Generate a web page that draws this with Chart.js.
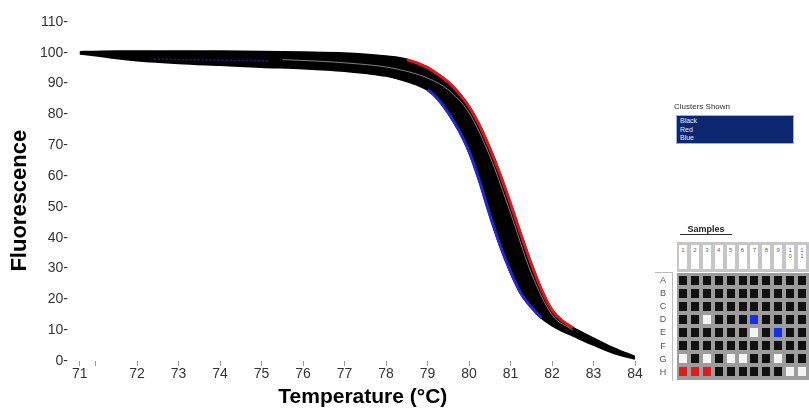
<!DOCTYPE html>
<html>
<head>
<meta charset="utf-8">
<script src="https://cdn.jsdelivr.net/npm/chart.js@4.4.0/dist/chart.umd.min.js"></script>
<style>
  html, body { margin: 0; padding: 0; background: #fff; }
  #wrap { position: relative; width: 809px; height: 410px; overflow: hidden; font-family: Arial, "Liberation Sans", sans-serif; }
  #meltChart { position: absolute; left: 0; top: 0; }
  .clusters-title { position: absolute; left: 674px; top: 102px; font-size: 8px; color: #333; }
  .clusters-box { position: absolute; left: 676px; top: 115px; width: 118px; height: 29px; background: #0c2770; border: 1px solid #9bb0dc; box-sizing: border-box; padding-top: 1px; }
  .clusters-box div { font-size: 7px; line-height: 8.6px; color: #e6eaf6; padding-left: 3px; }
  .samples-title { position: absolute; left: 680px; top: 224px; width: 52px; font-size: 9px; font-weight: bold; color: #222; text-align: center; border-bottom: 1px solid #333; line-height: 10px; }
  .col-head { position: absolute; left: 677px; top: 242px; width: 132px; height: 30px; background: #c6c6c6; }
  .col-head div { position: absolute; top: 3px; width: 8px; height: 24px; background: #fff; font-size: 6px; line-height: 6px; color: #666; text-align: center; padding-top: 2px; box-sizing: border-box; }
  .row-box { position: absolute; left: 655px; top: 272px; width: 17px; height: 108px; border-top: 1px solid #bbb; border-right: 1px solid #bbb; }
  .row-lab { position: absolute; left: 657px; width: 12px; font-size: 9px; line-height: 10px; color: #555; text-align: center; }
  .grid-bg { position: absolute; left: 677px; top: 273px; width: 132px; height: 107px; background: #9c9c9c; }
  .cell { position: absolute; width: 8px; height: 9px; }
</style>
</head>
<body>
<div id="wrap">
  <canvas id="meltChart" width="809" height="410"></canvas>
  <div class="clusters-title">Clusters Shown</div>
  <div class="clusters-box" id="clusters"></div>
  <div class="samples-title">Samples</div>
  <div class="col-head" id="colHead"></div>
  <div class="row-box"></div>
  <div class="grid-bg"></div>
  <div id="plate"></div>
</div>
<script>
// melt curve envelope
const temps      = [70.62, 71, 71.5, 72, 73, 74, 75, 76, 77, 77.5, 78, 78.5, 79, 79.25, 79.5, 79.75, 80, 80.25, 80.5, 80.75, 81, 81.25, 81.5, 81.75, 82, 82.25, 82.5, 83, 83.5, 84];
const upperEdge  = [100.2, 100.3, 100.4, 100.4, 100.4, 100.4, 100.3, 100.1, 99.8, 99.4, 98.8, 97.8, 95.2, 93, 90.5, 87, 82.5, 76.5, 69, 60.5, 51, 41, 31.5, 23, 16.5, 13, 10.8, 7.3, 4, 1.3];
const lowerEdge  = [99.8, 99.2, 98.3, 97.6, 96.7, 96.1, 95.5, 95, 94.2, 93.5, 92.6, 90.8, 88, 85, 80.5, 75, 68, 58.5, 47.5, 37.5, 29, 22, 17.5, 14, 11.6, 9.8, 8.3, 5.3, 2.6, 0.8];

const whiteTemps = [75.5, 76.5, 77.5, 78, 78.5, 79, 79.5, 80, 80.5, 81, 81.5, 82, 82.5];
const whiteTrace = [97.8, 97.2, 96.2, 95.4, 94, 91.8, 88, 80.5, 66.5, 48, 28.5, 15, 10];

const blueDotTemps = [72.4, 73, 73.6, 74, 74.6, 75.2];
const blueDotTrace = [98, 97.8, 97.7, 97.6, 97.5, 97.4];

const redRange  = [78.5, 82.5];
const blueRange = [79, 81.75];

const xTickValues = [70.62, 71, 72, 73, 74, 75, 76, 77, 78, 79, 80, 81, 82, 83, 84];
const xTickLabels = ['71', '', '72', '73', '74', '75', '76', '77', '78', '79', '80', '81', '82', '83', '84'];

const clusterNames = ['Black', 'Red', 'Blue'];
const plateRows = ['A', 'B', 'C', 'D', 'E', 'F', 'G', 'H'];
const plateCols = ['1', '2', '3', '4', '5', '6', '7', '8', '9', '10', '11'];
const plateCells = [
    'kkkkkkkkkkk',
    'kkkkkkkkkkk',
    'kkkkkkkkkkk',
    'kkwkkkbkkkk',
    'kkkkkkwkbkk',
    'kkkkkkkkkkk',
    'wkwkwwkkwkk',
    'rrrkkkkkkww'
];

const RED = '#e3141b';
const BLUE = '#2626d4';
const BLACK = '#000';
const NONE = 'rgba(0,0,0,0)';
const cellColors = { k: '#111', w: '#f4f4f4', b: '#1530e6', r: '#e51a1a' };

function toPoints(xs, ys) {
    return xs.map((x, i) => ({ x: x, y: ys[i] }));
}

function inRange(c, range) {
    return c.p0.parsed.x >= range[0] && c.p1.parsed.x <= range[1];
}

const tickFont = { family: 'Arial, "Liberation Sans", sans-serif', size: 14 };
const titleFamily = 'Arial, "Liberation Sans", sans-serif';

const ctx = document.getElementById('meltChart').getContext('2d');
const meltChart = new Chart(ctx, {
    type: 'line',
    data: {
        datasets: [
            // coloured edges on top
            {
                data: toPoints(temps, upperEdge),
                borderColor: NONE,
                borderWidth: 3,
                fill: false,
                segment: { borderColor: c => inRange(c, redRange) ? RED : NONE }
            },
            {
                data: toPoints(temps, lowerEdge),
                borderColor: NONE,
                borderWidth: 3,
                fill: false,
                segment: { borderColor: c => inRange(c, blueRange) ? BLUE : NONE }
            },
            {
                data: toPoints(whiteTemps, whiteTrace),
                borderColor: 'rgba(255,255,255,0.5)',
                borderWidth: 1,
                fill: false
            },
            {
                data: toPoints(blueDotTemps, blueDotTrace),
                borderColor: 'rgba(50,50,200,0.7)',
                borderWidth: 1.5,
                borderDash: [2, 2],
                fill: false
            },
            // black band
            {
                data: toPoints(temps, upperEdge),
                borderColor: BLACK,
                borderWidth: 2.5,
                backgroundColor: BLACK,
                fill: '+1'
            },
            {
                data: toPoints(temps, lowerEdge),
                borderColor: BLACK,
                borderWidth: 2.5,
                fill: false
            }
        ]
    },
    options: {
        responsive: false,
        animation: false,
        devicePixelRatio: 1,
        layout: { padding: { left: 0, right: 174, top: 22, bottom: 0 } },
        elements: {
            point: { radius: 0 },
            line: { cubicInterpolationMode: 'monotone' }
        },
        plugins: {
            legend: { display: false },
            tooltip: { enabled: false },
            filler: { drawTime: 'beforeDatasetsDraw' }
        },
        scales: {
            x: {
                type: 'linear',
                min: 70.6,
                max: 84,
                afterFit: s => { s.height = 49; },
                afterBuildTicks: s => { s.ticks = xTickValues.map(v => ({ value: v })); },
                ticks: {
                    autoSkip: false,
                    maxRotation: 0,
                    padding: 0,
                    color: '#333',
                    font: tickFont,
                    callback: (v, i) => xTickLabels[i]
                },
                grid: { display: true, drawOnChartArea: false, drawTicks: true, tickLength: 5, color: '#999' },
                border: { display: false },
                title: {
                    display: true,
                    text: '  Temperature (°C)',
                    color: '#000',
                    font: { family: titleFamily, size: 21, weight: 'bold' },
                    padding: { top: 0, bottom: 0 }
                }
            },
            y: {
                min: 0,
                max: 110,
                afterFit: s => { s.width = 79; },
                ticks: {
                    stepSize: 10,
                    padding: 11,
                    color: '#333',
                    font: tickFont,
                    callback: v => v + '-'
                },
                grid: { display: false, drawTicks: false },
                border: { display: false },
                title: {
                    display: true,
                    text: 'Fluorescence   ',
                    color: '#000',
                    font: { family: titleFamily, size: 22, weight: 'bold' },
                    padding: { top: 7, bottom: 0 }
                }
            }
        }
    }
});

// side panel: clusters list and sample plate
const clustersBox = document.getElementById('clusters');
clusterNames.forEach(n => {
    const d = document.createElement('div');
    d.textContent = n;
    clustersBox.appendChild(d);
});

const colHead = document.getElementById('colHead');
plateCols.forEach((c, i) => {
    const d = document.createElement('div');
    d.style.left = (2 + i * 11.9) + 'px';
    d.innerHTML = c.split('').join('<br>');
    colHead.appendChild(d);
});

const wrap = document.getElementById('wrap');
plateRows.forEach((r, ri) => {
    const cy = 280 + ri * 13.1;
    const lab = document.createElement('div');
    lab.className = 'row-lab';
    lab.style.top = (cy - 5) + 'px';
    lab.textContent = r;
    wrap.appendChild(lab);
    plateCells[ri].split('').forEach((k, ci) => {
        const cell = document.createElement('div');
        cell.className = 'cell';
        cell.style.left = (683 + ci * 11.9 - 4) + 'px';
        cell.style.top = (cy - 4.5) + 'px';
        cell.style.background = cellColors[k];
        wrap.appendChild(cell);
    });
});
</script>
</body>
</html>
